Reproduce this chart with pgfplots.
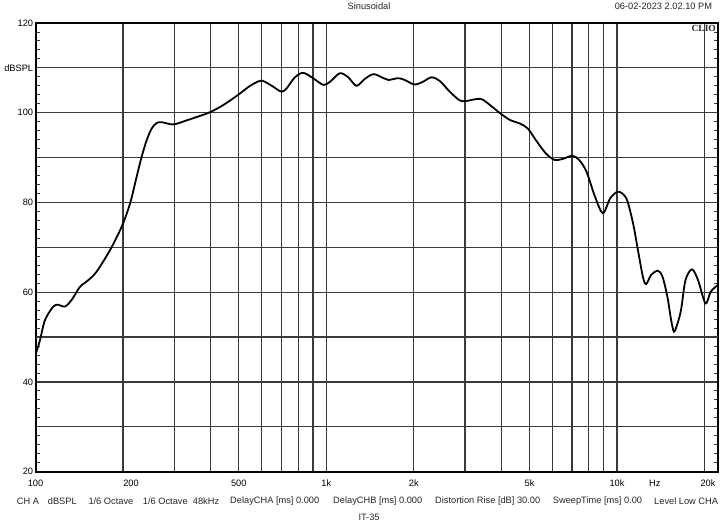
\documentclass[border=0pt]{standalone}
\usepackage{pgfplots}
\pgfplotsset{compat=1.18}
\usepackage{fontspec}
\setmainfont{Liberation Sans}
\newfontfamily\clio{Liberation Serif}
\definecolor{gridd}{HTML}{3A3A3A}
\definecolor{gridl}{HTML}{999999}
\pgfplotstableread{
f db
100 46.0
103.6 49.3
107.8 53.8
115.1 56.8
119.8 57.2
126.3 56.8
133.2 58.3
142.2 61.2
152 62.7
162.3 64.6
180.5 69.4
197.9 74.6
211.5 79.8
222.7 85.7
231.8 90.2
241.3 93.9
251 96.5
260.9 97.7
271.6 97.9
297.6 97.4
331.1 98.3
368 99.3
398 100.1
442 101.7
498 104.0
547 106.0
591 107.1
615 106.9
657 105.8
701 104.7
730 105.4
780 107.9
833 108.9
901 107.7
977 106.2
1030 106.9
1114 108.8
1190 107.9
1270 106.0
1355 107.5
1455 108.6
1575 107.7
1636 107.3
1768 107.7
1861 107.3
2013 106.3
2150 106.9
2300 107.9
2455 107.1
2659 104.7
2870 102.8
3020 102.6
3390 103.1
3660 101.7
3960 99.9
4280 98.4
4630 97.6
4930 96.5
5260 93.9
5680 91.0
6090 89.5
6500 89.7
7020 90.4
7400 89.5
7850 86.9
8400 81.3
8940 77.6
9470 80.9
10090 82.4
10770 80.9
11350 75.4
11800 69.4
12270 63.5
12590 61.8
13090 63.8
13800 64.8
14330 63.5
14900 59.0
15350 53.8
15700 51.2
16100 52.8
16600 56.0
17200 62.7
18100 65.1
19000 62.7
20150 57.5
21000 60.1
22200 61.6
}\response
\begin{document}
\begin{tikzpicture}
\begin{axis}[
  at={(0,0)}, anchor=south west,
  scale only axis, width=682.2bp, height=448.7bp,
  xmode=log, xmin=100, xmax=22200, ymin=20, ymax=120,
  axis line style={line width=2bp, black},
  font=\fontsize{9.3}{11}\selectfont,
  /pgf/number format/assume math mode=true,
  xtick={100,200,500,1000,2000,5000,10000,20000},
  xticklabels={100,\hspace*{16bp}200,500,1k,2k,5k,10k,\hspace*{7bp}20k},
  minor xtick={300,400,600,700,800,900,3000,4000,6000,7000,8000,9000},
  xmajorgrids, xminorgrids,
  major x grid style={gridd, line width=1.15bp},
  minor x grid style={gridd, line width=1.15bp},
  x tick style={draw=none},
  minor x tick style={draw=none},
  xticklabel style={anchor=north, inner sep=0pt, yshift=-8.3bp, text height=6.7bp, text depth=0pt},
  extra x ticks={13490}, extra x tick labels={Hz},
  extra x tick style={grid=none, major tick length=0pt},
  ytick={20,40,60,80,100,120},
  yticklabels={20,40,60,80,100,120},
  minor ytick={22,24,...,118},
  ymajorgrids,
  major y grid style={gridd, line width=1.2bp},
  major tick length=0pt, minor tick length=4bp,
  tick align=inside,
  minor y tick style={gridd, line width=0.9bp},
  yticklabel style={anchor=east, inner sep=0pt, xshift=-2.2bp},
  extra y ticks={30,50,70,90,110},
  extra y tick labels={,,,,dBSPL},
  extra y tick style={grid=major, major grid style={gridl, line width=2bp}, major tick length=0pt},
]
\addplot[black, line width=1.8bp, smooth, tension=0.5] table[x=f, y=db] {\response};
\end{axis}
\useasboundingbox (-35.5bp,-51.3bp) rectangle (684.5bp,471.7bp);
\begin{scope}[every node/.style={font=\fontsize{9.3}{11}\selectfont, inner sep=0pt, text=black!85}]
\node at (333.5bp,465.7bp) {Sinusoidal};
\node[anchor=east] at (676.8bp,465.7bp) {06-02-2023 2.02.10 PM};
\node[anchor=east, font=\clio\bfseries\fontsize{9.5}{11}\selectfont] at (680.5bp,443.4bp) {CLIO};
\node[anchor=west] at (-18.8bp,-29.3bp) {CH A};
\node[anchor=west] at (12.2bp,-29.3bp) {dBSPL};
\node[anchor=west] at (52.8bp,-29.3bp) {1/6 Octave};
\node[anchor=west] at (107.2bp,-29.3bp) {1/6 Octave};
\node[anchor=west] at (157.2bp,-29.3bp) {48kHz};
\node[anchor=west] at (194.5bp,-29.3bp) {DelayCHA [ms] 0.000};
\node[anchor=west] at (297.5bp,-29.3bp) {DelayCHB [ms] 0.000};
\node[anchor=west] at (399.5bp,-29.3bp) {Distortion Rise [dB] 30.00};
\node[anchor=west] at (517.2bp,-29.3bp) {SweepTime [ms] 0.00};
\node[anchor=west] at (618.5bp,-29.3bp) {Level Low CHA};
\node[anchor=west] at (322.8bp,-46bp) {IT-35};
\end{scope}
\end{tikzpicture}
\end{document}
